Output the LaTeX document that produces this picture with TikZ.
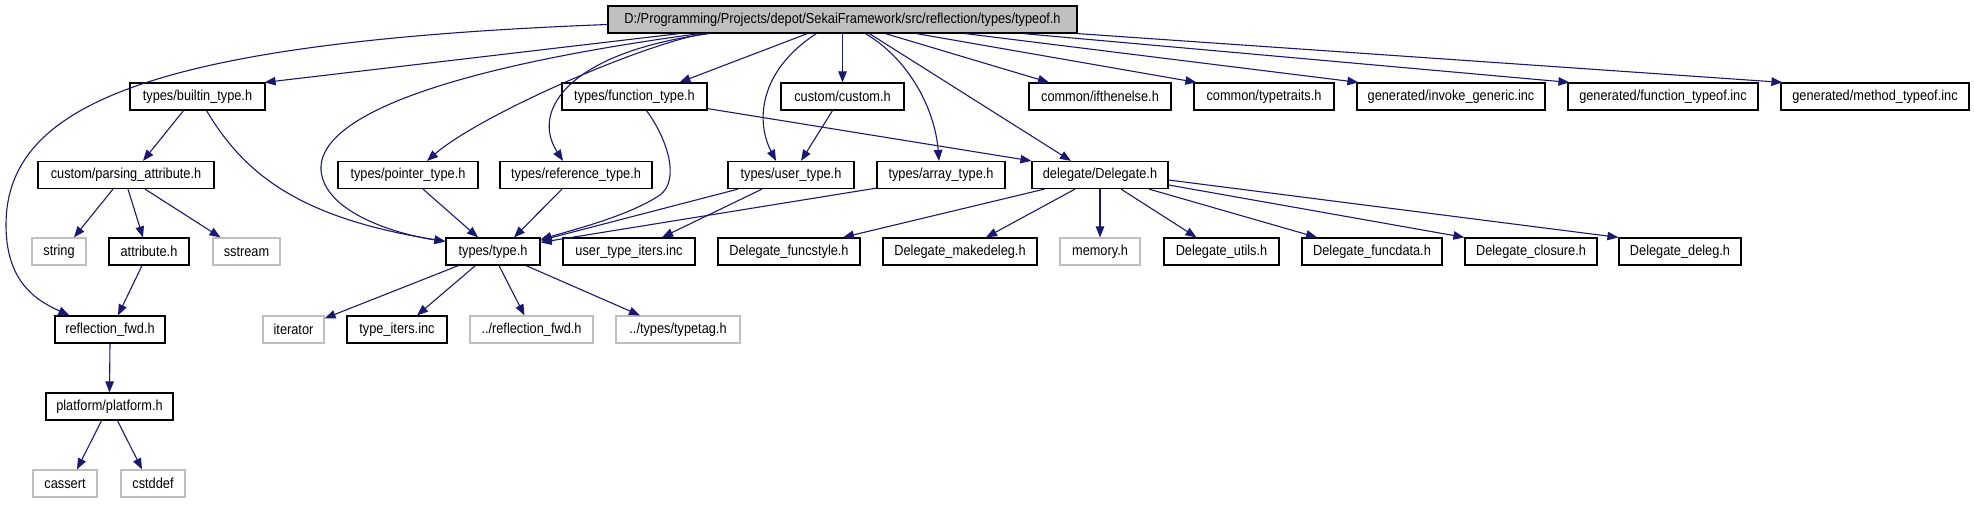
\documentclass[tikz,border=0pt]{standalone}
\usepackage{fontspec}
\newfontfamily\nodefont[FakeStretch=0.88]{Liberation Sans}
\usetikzlibrary{arrows.meta}
\definecolor{edgeblue}{HTML}{191970}
\definecolor{gborder}{HTML}{BFBFBF}
\tikzset{
  box/.style={draw=black, line width=1.2pt, rectangle, minimum height=27, inner sep=0pt, font=\nodefont\fontsize{14.5}{16}\selectfont, text=black, fill=white},
  gbox/.style={box, draw=gborder},
  mainbox/.style={box, fill=gborder},
  edge/.style={draw=edgeblue, line width=1.1pt, -{Triangle[length=11pt,width=8.5pt]}}
}
\begin{document}
\begin{tikzpicture}[x=1pt,y=-1pt]
\useasboundingbox (0,0) rectangle (1974,504);
% row A
\node[mainbox, minimum width=469] (main) at (842.5,19.5) {D:/Programming/Projects/depot/SekaiFramework/src/reflection/types/typeof.h};
% row B
\node[box, minimum width=135] (builtin) at (197.5,96.5) {types/builtin\_type.h};
\node[box, minimum width=145] (function) at (634.5,96.5) {types/function\_type.h};
\node[box, minimum width=123] (custom) at (842.5,96.5) {custom/custom.h};
\node[box, minimum width=142] (ifthen) at (1100,96.5) {common/ifthenelse.h};
\node[box, minimum width=140] (typetraits) at (1264,96.5) {common/typetraits.h};
\node[box, minimum width=188] (invoke) at (1451,96.5) {generated/invoke\_generic.inc};
\node[box, minimum width=190] (ftypeof) at (1663,96.5) {generated/function\_typeof.inc};
\node[box, minimum width=188] (mtypeof) at (1875,96.5) {generated/method\_typeof.inc};
% row C
\node[box, minimum width=176] (parsing) at (126,175) {custom/parsing\_attribute.h};
\node[box, minimum width=140] (pointer) at (408,175) {types/pointer\_type.h};
\node[box, minimum width=152] (reference) at (576,175) {types/reference\_type.h};
\node[box, minimum width=126] (user) at (791,175) {types/user\_type.h};
\node[box, minimum width=128] (array) at (941,175) {types/array\_type.h};
\node[box, minimum width=136] (delegate) at (1100,175) {delegate/Delegate.h};
% row D
\node[gbox, minimum width=54] (string) at (59,251.5) {string};
\node[box, minimum width=80] (attribute) at (149,251.5) {attribute.h};
\node[gbox, minimum width=67] (sstream) at (246.5,251.5) {sstream};
\node[box, minimum width=94] (type) at (493,251.5) {types/type.h};
\node[box, minimum width=132] (uti) at (629,251.5) {user\_type\_iters.inc};
\node[box, minimum width=142] (funcstyle) at (789,251.5) {Delegate\_funcstyle.h};
\node[box, minimum width=154] (makedeleg) at (960,251.5) {Delegate\_makedeleg.h};
\node[gbox, minimum width=80] (memory) at (1100,251.5) {memory.h};
\node[box, minimum width=115] (utils) at (1221.5,251.5) {Delegate\_utils.h};
\node[box, minimum width=140] (funcdata) at (1372,251.5) {Delegate\_funcdata.h};
\node[box, minimum width=132] (closure) at (1531,251.5) {Delegate\_closure.h};
\node[box, minimum width=122] (deleg) at (1680,251.5) {Delegate\_deleg.h};
% row E
\node[box, minimum width=110] (refl) at (110,329.5) {reflection\_fwd.h};
\node[gbox, minimum width=61] (iterator) at (293.5,329.5) {iterator};
\node[box, minimum width=100] (typeiters) at (397,329.5) {type\_iters.inc};
\node[gbox, minimum width=123] (drefl) at (531.5,329.5) {../reflection\_fwd.h};
\node[gbox, minimum width=124] (typetag) at (678,329.5) {../types/typetag.h};
% row F
\node[box, minimum width=127] (platform) at (109.5,406.5) {platform/platform.h};
% row G
\node[gbox, minimum width=64] (cassert) at (65,483.5) {cassert};
\node[gbox, minimum width=64] (cstddef) at (153,483.5) {cstddef};

% edges from main
\draw[edge] ([yshift=-5pt]main.west) .. controls (150,42) and (6,105) .. (6,225) .. controls (6,285) and (40,302) .. ([xshift=15pt]refl.north west);
\draw[edge] ([xshift=72pt]main.south west) -- ([xshift=-1pt]builtin.north east);
\draw[edge] ([xshift=92pt]main.south west) .. controls (430,70) and (318,120) .. (321,170) .. controls (324,212) and (395,234) .. ([yshift=-4pt]type.north west);
\draw[edge] ([xshift=97pt]main.south west) .. controls (640,45) and (480,115) .. ([xshift=19pt]pointer.north);
\draw[edge] ([xshift=102pt]main.south west) .. controls (570,52) and (530,110) .. ([xshift=-13pt]reference.north);
\draw[edge] ([xshift=200pt]main.south west) -- ([xshift=45pt]function.north);
\draw[edge] ([xshift=209pt]main.south west) .. controls (760,70) and (755,120) .. ([xshift=-15pt]user.north);
\draw[edge] (main.south) -- (custom.north);
\draw[edge] ([xshift=258pt]main.south west) .. controls (910,60) and (935,110) .. ([xshift=-2pt]array.north);
\draw[edge] ([xshift=262pt]main.south west) -- ([xshift=-29pt]delegate.north);
\draw[edge] ([xshift=278pt]main.south west) -- ([xshift=-51pt]ifthen.north);
\draw[edge] ([xshift=309pt]main.south west) -- ([xshift=3pt]typetraits.north west);
\draw[edge] ([xshift=358pt]main.south west) -- ([xshift=2pt]invoke.north west);
\draw[edge] ([xshift=416pt]main.south west) -- ([xshift=2pt]ftypeof.north west);
\draw[edge] (main.south east) -- ([xshift=2pt]mtypeof.north west);

% other edges
\draw[edge] ([xshift=-14pt]builtin.south) -- ([xshift=17pt]parsing.north);
\draw[edge] ([xshift=9pt]builtin.south) .. controls (245,175) and (300,218) .. ([yshift=-4pt]type.north west);
\draw[edge] ([xshift=12pt]function.south) .. controls (668,140) and (680,180) .. (660,195) .. controls (630,215) and (580,228) .. ([yshift=-2pt]type.north east);
\draw[edge] ([yshift=2pt]function.south east) -- (delegate.north west);
\draw[edge] ([xshift=-10pt]custom.south) -- ([xshift=10pt]user.north);
\draw[edge] ([xshift=15pt]pointer.south) -- ([xshift=-15pt]type.north);
\draw[edge] ([xshift=-14pt]reference.south) -- ([xshift=21pt]type.north);
\draw[edge] ([xshift=-53pt]user.south) -- ([yshift=-3pt]type.north east);
\draw[edge] ([xshift=-29pt]user.south) -- ([xshift=33pt]uti.north);
\draw[edge] ([yshift=1pt]array.south west) -- ([yshift=-5pt]type.north east);
\draw[edge] ([xshift=-13pt]parsing.south) -- ([xshift=15pt]string.north);
\draw[edge] ([xshift=2pt]parsing.south) -- ([xshift=-6pt]attribute.north);
\draw[edge] ([xshift=19pt]parsing.south) -- ([xshift=-26pt]sstream.north);
\draw[edge] ([xshift=-7pt]attribute.south) -- ([xshift=8pt]refl.north);
\draw[edge] ([xshift=13pt]type.south west) -- ([yshift=-3pt]iterator.north east);
\draw[edge] ([xshift=30pt]type.south west) -- ([xshift=20pt]typeiters.north);
\draw[edge] ([xshift=6pt]type.south) -- ([xshift=-7pt]drefl.north);
\draw[edge] ([xshift=33pt]type.south) -- ([xshift=-38pt]typetag.north);
\draw[edge] ([xshift=13pt]delegate.south west) -- ([xshift=54pt]funcstyle.north);
\draw[edge] ([xshift=-25pt]delegate.south) -- ([xshift=26pt]makedeleg.north);
\draw[edge] (delegate.south) -- (memory.north);
\draw[edge] ([xshift=21pt]delegate.south) -- ([xshift=-25pt]utils.north);
\draw[edge] ([xshift=49pt]delegate.south) -- ([xshift=-55pt]funcdata.north);
\draw[edge] ([yshift=-10pt]delegate.east) -- (closure.north west);
\draw[edge] ([yshift=-5pt]delegate.east) -- (deleg.north west);
\draw[edge] (refl.south) -- (platform.north);
\draw[edge] ([xshift=-8pt]platform.south) -- ([xshift=12pt]cassert.north);
\draw[edge] ([xshift=8pt]platform.south) -- ([xshift=-11pt]cstddef.north);
\end{tikzpicture}
\end{document}
